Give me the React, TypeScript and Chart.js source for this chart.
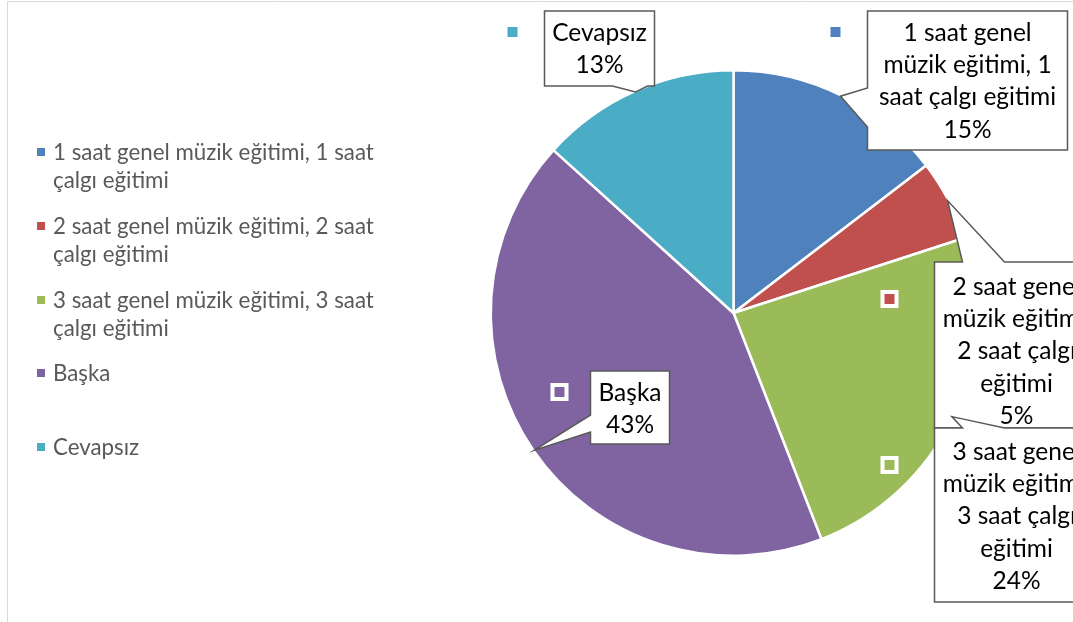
import React, { useEffect, useRef } from "react";
import { Chart, registerables } from "chart.js";
Chart.register(...registerables);

const categories = [
  "1 saat genel müzik eğitimi, 1 saat çalgı eğitimi",
  "2 saat genel müzik eğitimi, 2 saat çalgı eğitimi",
  "3 saat genel müzik eğitimi, 3 saat çalgı eğitimi",
  "Başka",
  "Cevapsız",
];
const values = [14.6, 5.4, 24.1, 42.6, 13.3];
const colors = ["#4F81BD", "#C0504D", "#9BBB59", "#8064A2", "#4BACC6"];
const legendLines = [
  ["1 saat genel müzik eğitimi, 1 saat", "çalgı eğitimi"],
  ["2 saat genel müzik eğitimi, 2 saat", "çalgı eğitimi"],
  ["3 saat genel müzik eğitimi, 3 saat", "çalgı eğitimi"],
  ["Başka"],
  ["Cevapsız"],
];
const calloutLines = [
  ["1 saat genel", "müzik eğitimi, 1", "saat çalgı eğitimi"],
  ["2 saat genel", "müzik eğitimi,", "2 saat çalgı", "eğitimi"],
  ["3 saat genel", "müzik eğitimi,", "3 saat çalgı", "eğitimi"],
  ["Başka"],
  ["Cevapsız"],
];

// layout of callouts relative to pie centre (style, not data)
type Side = "left" | "top" | "bottom";
const calloutLayout: { bx: number; by: number; w: number; h: number; side: Side; a: number; b: number; mx: number; my: number; lineTop: number }[] = [
  { bx: 134, by: -302, w: 200, h: 139, side: "left", a: 77, b: 116, mx: 102, my: -281, lineTop: 22 },
  { bx: 201, by: -51, w: 164, h: 166, side: "top", a: 28, b: 70, mx: 156, my: -14, lineTop: 25 },
  { bx: 201, by: 115, w: 164, h: 174, side: "top", a: 28, b: 70, mx: 156, my: 152, lineTop: 24 },
  { bx: -143, by: 58, w: 79, h: 73, side: "left", a: 44, b: 61, mx: -174, my: 79, lineTop: 22 },
  { bx: -189, by: -302, w: 110, h: 75, side: "bottom", a: 68, b: 103, mx: -221, my: -281, lineTop: 22 },
];

const FONT = "Lato, 'Open Sans', sans-serif";

const calloutPlugin = {
  id: "callouts",
  beforeDraw(chart: any) {
    const ctx = chart.ctx;
    ctx.save();
    ctx.strokeStyle = "#D9D9D9";
    ctx.lineWidth = 1;
    ctx.beginPath();
    ctx.moveTo(7.5, 622);
    ctx.lineTo(7.5, 1.5);
    ctx.lineTo(1073, 1.5);
    ctx.stroke();
    ctx.restore();
  },
  afterDatasetsDraw(chart: any) {
    const ctx = chart.ctx;
    const meta = chart.getDatasetMeta(0);
    const total = values.reduce((s, v) => s + v, 0);
    const order = [0, 1, 2, 3, 4];
    order.forEach((i) => {
      const arc = meta.data[i];
      const { x, y } = arc.getProps(["x", "y"], true);
      const L = calloutLayout[i];
      const cx = x + L.mx;
      const cy = y + L.my;
      ctx.save();
      ctx.fillStyle = "#FFFFFF";
      ctx.fillRect(cx - 9, cy - 9, 18, 18);
      ctx.fillStyle = colors[i];
      ctx.fillRect(cx - 5, cy - 5, 10, 10);
      ctx.restore();
    });
    order.forEach((i) => {
      const arc = meta.data[i];
      const p = arc.getProps(["x", "y", "startAngle", "endAngle", "outerRadius"], true);
      const mid = (p.startAngle + p.endAngle) / 2;
      const R = p.outerRadius - 1;
      const tx = p.x + Math.cos(mid) * R;
      const ty = p.y + Math.sin(mid) * R;
      const L = calloutLayout[i];
      const bx = p.x + L.bx;
      const by = p.y + L.by;
      const { w, h, a, b } = L;
      ctx.save();
      ctx.beginPath();
      ctx.moveTo(bx, by);
      if (L.side === "top") {
        ctx.lineTo(bx + a, by);
        ctx.lineTo(tx, ty);
        ctx.lineTo(bx + b, by);
      }
      ctx.lineTo(bx + w, by);
      ctx.lineTo(bx + w, by + h);
      if (L.side === "bottom") {
        ctx.lineTo(bx + b, by + h);
        ctx.lineTo(tx, ty);
        ctx.lineTo(bx + a, by + h);
      }
      ctx.lineTo(bx, by + h);
      if (L.side === "left") {
        ctx.lineTo(bx, by + b);
        ctx.lineTo(tx, ty);
        ctx.lineTo(bx, by + a);
      }
      ctx.closePath();
      ctx.fillStyle = "#FFFFFF";
      ctx.fill();
      ctx.strokeStyle = "#595959";
      ctx.lineWidth = 1.5;
      ctx.lineJoin = "miter";
      ctx.stroke();
      const lines = [...calloutLines[i], Math.round((values[i] / total) * 100) + "%"];
      ctx.fillStyle = "#000000";
      ctx.font = `24.5px ${FONT}`;
      ctx.textAlign = "center";
      ctx.textBaseline = "middle";
      lines.forEach((t, k) => {
        ctx.fillText(t, bx + w / 2, by + L.lineTop + k * 32.2);
      });
      ctx.restore();
    });
  },
};

export default function App() {
  const ref = useRef<HTMLCanvasElement | null>(null);
  useEffect(() => {
    document.body.style.margin = "0";
    const chart = new Chart(ref.current as HTMLCanvasElement, {
      type: "pie",
      data: {
        labels: categories,
        datasets: [
          {
            data: values,
            backgroundColor: colors,
            borderColor: "#FFFFFF",
            borderWidth: 2.5,
          },
        ],
      },
      options: {
        responsive: false,
        animation: false,
        devicePixelRatio: 1,
        layout: { padding: { left: 489, right: 95, top: 69, bottom: 65 } },
        plugins: { legend: { display: false }, tooltip: { enabled: false } },
      },
      plugins: [calloutPlugin],
    } as any);
    return () => chart.destroy();
  }, []);

  return (
    <div style={{ position: "absolute", left: 0, top: 0, width: 1073, height: 622, overflow: "hidden", background: "#fff" }}>
      <canvas ref={ref} width={1073} height={622} style={{ position: "absolute", left: 0, top: 0 }} />
      {legendLines.map((lines, i) => (
        <div
          key={i}
          style={{
            position: "absolute",
            left: 37,
            top: 138 + i * 73.75,
            fontFamily: FONT,
            fontSize: 22.3,
            lineHeight: "28px",
            color: "#595959",
            whiteSpace: "nowrap",
          }}
        >
          <span style={{ position: "absolute", left: 0, top: 10, width: 8, height: 8, background: colors[i] }} />
          <div style={{ marginLeft: 16 }}>
            {lines.map((t, k) => (
              <div key={k}>{t}</div>
            ))}
          </div>
        </div>
      ))}
    </div>
  );
}
